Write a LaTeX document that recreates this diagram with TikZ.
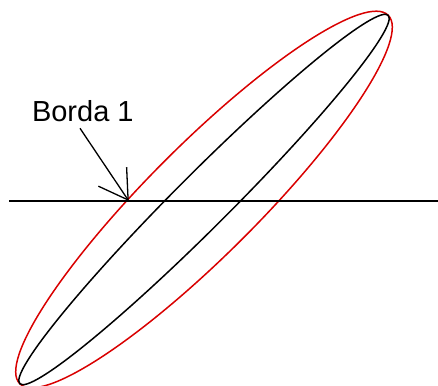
\documentclass[tikz,border=0pt]{standalone}
\usepackage{fontspec}
\setmainfont{Liberation Sans}
\usetikzlibrary{arrows.meta}
\begin{document}
\begin{tikzpicture}[x=1pt,y=1pt,
  curve/.style={line width=1.5pt},
  label/.style={font=\fontsize{29}{33}\selectfont, inner sep=0pt, anchor=base}]
\useasboundingbox (0,0) rectangle (438,385);
\coordinate (c) at (204,185.5);
\draw[curve, red!85!black, rotate around={45:(c)}] (c) ellipse [x radius=260.5, y radius=55];
\draw[curve, black, rotate around={45:(c)}] (c) ellipse [x radius=260.5, y radius=27];
\coordinate (lineL) at (9,184);
\coordinate (lineR) at (438,184);
\draw[line width=1.5pt] (lineL) -- (lineR);
\node[label] (lbl) at (82.8,263.3) {Borda 1};
\coordinate (b1) at (128.8,184);
\draw[line width=1.3pt, -{Straight Barb[length=28pt,width=34pt]}] ([xshift=-2.8pt,yshift=-6.6pt]lbl.base) -- (b1);
\end{tikzpicture}
\end{document}
